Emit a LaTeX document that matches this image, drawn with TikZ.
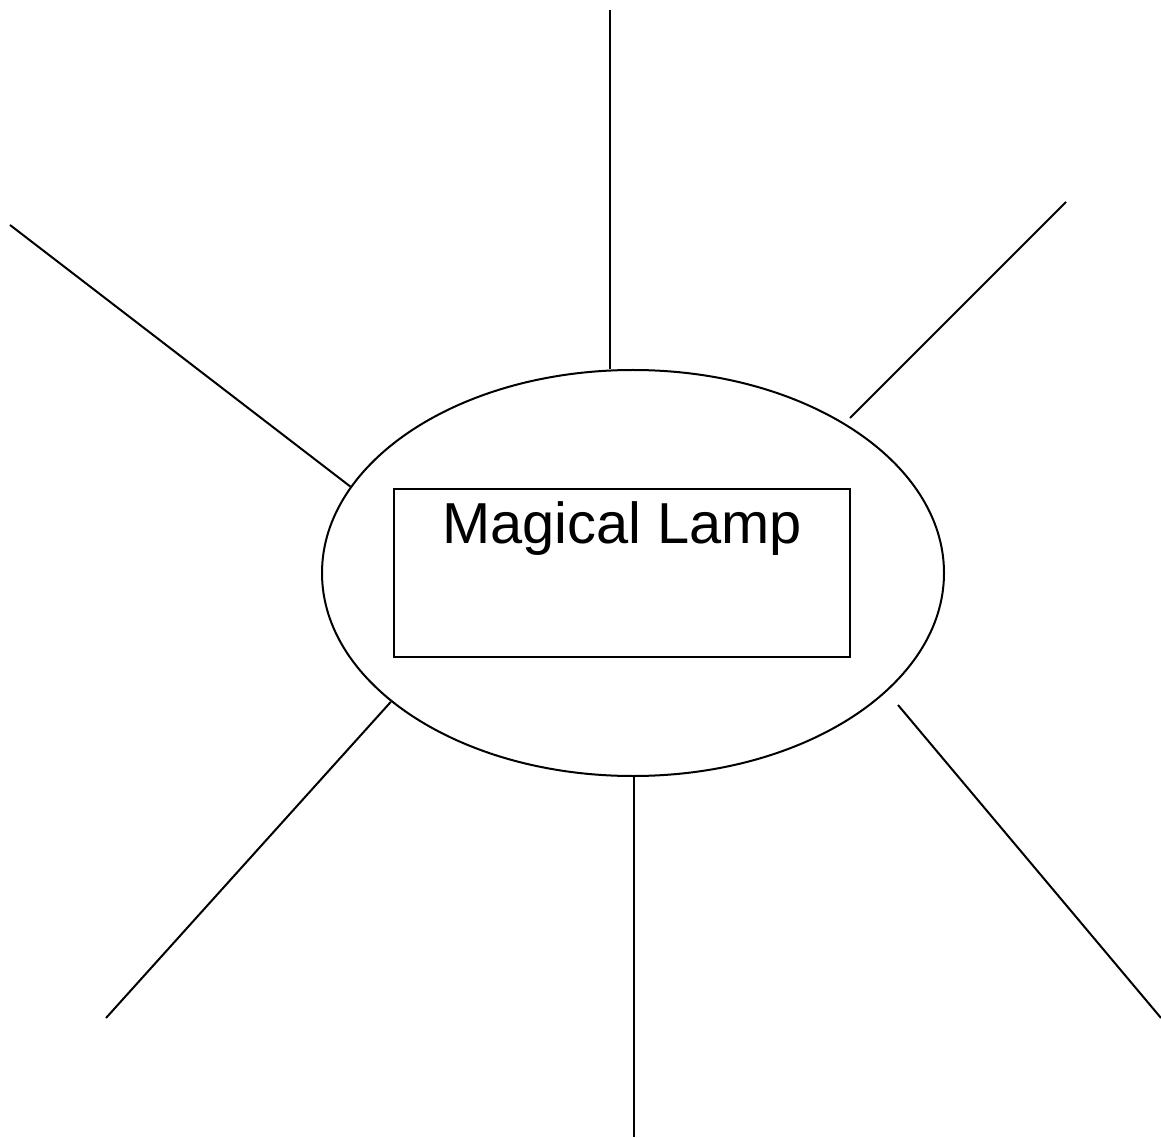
\documentclass[tikz,border=0pt]{standalone}
\usepackage{fontspec}
\setmainfont{Liberation Sans}
\usepackage{tikz}
\usetikzlibrary{shapes.geometric,calc}

\begin{document}
\begin{tikzpicture}[x=0.5pt,y=-0.5pt,line width=1pt,
  lampOval/.style={draw,ellipse,inner sep=0pt,minimum width=311pt,minimum height=203pt},
  lampBox/.style={draw,rectangle,inner sep=0pt,minimum width=228pt,minimum height=84pt},
  ray/.style={draw,line cap=butt}]
\useasboundingbox (0,0) rectangle (1161,1138);
% ovaal en kader
\node[lampOval] (lamp) at (633,573) {};
\node[lampBox] (box) at (622,573) {};
\node[anchor=base,inner sep=0pt] (title) at (622,544) {\fontsize{28.9}{34}\selectfont Magical Lamp};
% vrije uiteinden van de stralen
\coordinate (topEnd) at (610,10);
\coordinate (ulEnd) at (10,225);
\coordinate (urEnd) at (1066,202);
\coordinate (urIn) at (850,418);
\coordinate (llEnd) at (106,1018);
\coordinate (botEnd) at (634,1137);
\coordinate (lrEnd) at (1161,1018);
\coordinate (lrIn) at (898,705);
% stralen
\draw[ray] (topEnd) -- (topEnd |- lamp.north);
\draw[ray] (ulEnd) -- (lamp.163.8);
\draw[ray] (urEnd) -- (urIn);
\draw[ray] (llEnd) -- (lamp.208.9);
\draw[ray] (botEnd) -- (botEnd |- lamp.south);
\draw[ray] (lrEnd) -- (lrIn);
\end{tikzpicture}
\end{document}
